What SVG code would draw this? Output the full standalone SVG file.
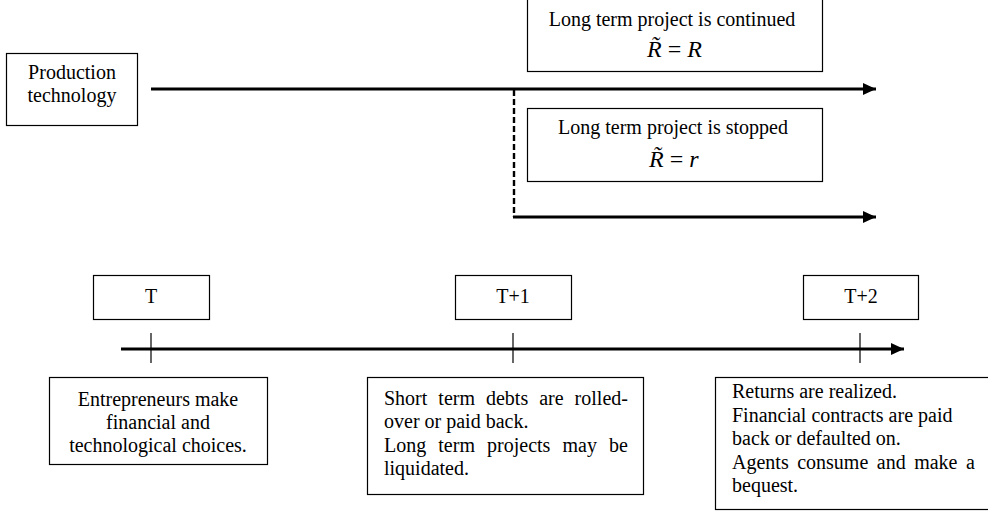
<svg xmlns="http://www.w3.org/2000/svg" width="988" height="513" viewBox="0 0 988 513">
<defs>
<style>
.box{fill:#fff;stroke:#000;stroke-width:1.2}
.t{font-family:"Liberation Serif","Times New Roman",serif;font-size:20px;fill:#000}
.c{text-anchor:middle}
.eq{font-family:"Liberation Serif","Times New Roman",serif;font-size:24px;fill:#000}
.i{font-style:italic}
.arr{stroke:#000;stroke-width:3;fill:none;marker-end:url(#ah)}
.tick{stroke:#000;stroke-width:1.2}
</style>
<marker id="ah" markerUnits="userSpaceOnUse" markerWidth="14" markerHeight="13" refX="13" refY="6" orient="auto">
<path d="M0,0 L13,6 L0,12 Z" fill="#000"/>
</marker>
</defs>
<rect width="988" height="513" fill="#fff"/>

<g id="connectors">
<line class="arr" x1="151" y1="89" x2="876" y2="89"/>
<line x1="514" y1="90" x2="514" y2="217" stroke="#000" stroke-width="2.4" stroke-dasharray="6,3"/>
<line class="arr" x1="513" y1="217" x2="876" y2="217"/>
<line class="arr" x1="121" y1="349" x2="904" y2="349"/>
<line class="tick" x1="151" y1="333" x2="151" y2="363"/>
<line class="tick" x1="513" y1="333" x2="513" y2="363"/>
<line class="tick" x1="860" y1="333" x2="860" y2="363"/>
</g>

<g id="production">
<rect class="box" x="6.5" y="53.5" width="131" height="72"/>
<text class="t c" x="72" y="79">Production</text>
<text class="t c" x="72" y="102">technology</text>
</g>

<g id="continued">
<rect class="box" x="527.5" y="-2" width="295" height="73.5"/>
<text class="t c" x="672" y="26">Long term project is continued</text>
<text class="eq" x="647" y="57"><tspan class="i">R&#x303;</tspan> = <tspan class="i">R</tspan></text>
</g>

<g id="stopped">
<rect class="box" x="527.5" y="108.5" width="295" height="73"/>
<text class="t c" x="673" y="134">Long term project is stopped</text>
<text class="eq" x="649" y="167"><tspan class="i">R&#x303;</tspan> = <tspan class="i">r</tspan></text>
</g>

<g id="T">
<rect class="box" x="93.5" y="275.5" width="116" height="44"/>
<text class="t c" x="151" y="303">T</text>
</g>
<g id="T1">
<rect class="box" x="455.5" y="275.5" width="116" height="44"/>
<text class="t c" x="513" y="303">T+1</text>
</g>
<g id="T2">
<rect class="box" x="803.5" y="275.5" width="115" height="44"/>
<text class="t c" x="861" y="303">T+2</text>
</g>

<g id="entrepreneurs">
<rect class="box" x="49.5" y="377.5" width="218" height="87"/>
<text class="t c" x="158" y="406">Entrepreneurs make</text>
<text class="t c" x="158" y="429">financial and</text>
<text class="t c" x="158" y="452">technological choices.</text>
</g>

<g id="shortterm">
<rect class="box" x="367.5" y="377.5" width="276" height="117"/>
<text class="t" x="384" y="405" word-spacing="6">Short term debts are rolled-</text>
<text class="t" x="384" y="428">over or paid back.</text>
<text class="t" x="384" y="452" word-spacing="7.1">Long term projects may be</text>
<text class="t" x="384" y="475">liquidated.</text>
</g>

<g id="returns">
<rect class="box" x="715.5" y="377.5" width="290" height="132"/>
<text class="t" x="732" y="398">Returns are realized.</text>
<text class="t" x="732" y="422">Financial contracts are paid</text>
<text class="t" x="732" y="445">back or defaulted on.</text>
<text class="t" x="732" y="469" word-spacing="3.5">Agents consume and make a</text>
<text class="t" x="732" y="492">bequest.</text>
</g>
</svg>
